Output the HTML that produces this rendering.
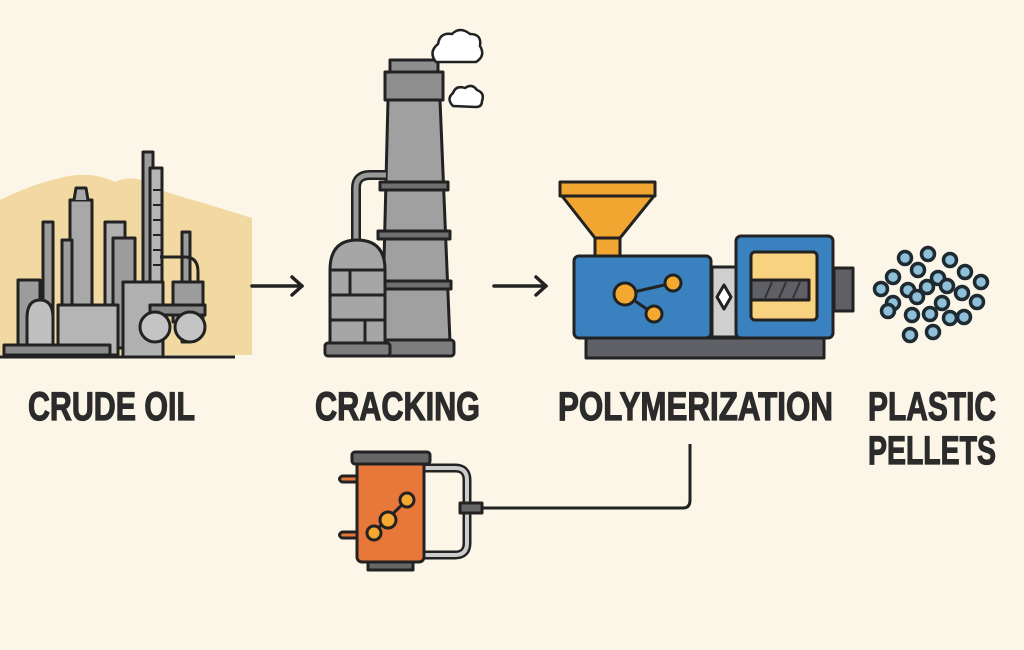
<!DOCTYPE html>
<html><head><meta charset="utf-8"><style>
html,body{margin:0;padding:0;background:#fcf6e9;}
svg{display:block}
text{font-family:"Liberation Sans Narrow","Liberation Sans",sans-serif;font-weight:bold;fill:#2b2b2b;stroke:#2b2b2b;stroke-width:1.2;}
</style></head><body>
<svg width="1024" height="650" viewBox="0 0 1024 650" xmlns="http://www.w3.org/2000/svg">
<rect width="1024" height="650" fill="#fcf6e9"/>
<path d="M0 200 Q30 185 60 178 Q90 170 115 182 Q135 172 160 190 Q185 198 210 205 L252 218 L252 355 L0 355 Z" fill="#f2d9a2"/>
<g stroke="#222" stroke-width="3" fill="#9c9c9c" stroke-linejoin="round">
<rect x="43" y="222" width="10" height="120"/>
<rect x="70" y="200" width="22" height="140" fill="#a8a8a8"/>
<path d="M74 200 L76 188 L86 188 L88 200" fill="#a8a8a8"/>
<rect x="62" y="240" width="10" height="100"/>
<rect x="105" y="222" width="20" height="120" fill="#b0b0b0"/>
<rect x="113" y="238" width="22" height="110"/>
<rect x="143" y="152" width="10" height="190"/>
<rect x="150" y="168" width="12" height="180" fill="#b5b5b5"/>
<path d="M153 190 L162 190 M153 205 L162 205 M153 220 L162 220 M153 235 L162 235 M153 250 L162 250 M153 265 L162 265" stroke-width="2"/>
<rect x="182" y="232" width="8" height="110"/>
<path d="M160 257 L185 257 Q198 257 198 272 L198 285" fill="none"/>
<rect x="18" y="280" width="22" height="65"/>
<rect x="58" y="305" width="60" height="50" fill="#b5b5b5"/>
<rect x="123" y="282" width="40" height="75" fill="#b0b0b0"/>
<rect x="173" y="282" width="30" height="40"/>
<path d="M27 345 L27 318 Q27 300 40 300 Q53 300 53 318 L53 345" fill="#c0c0c0"/>
<rect x="150" y="305" width="55" height="10" fill="#888"/>
<circle cx="155" cy="327" r="15" fill="#c4c4c4"/>
<circle cx="190" cy="327" r="15" fill="#c4c4c4"/>
<rect x="4" y="345" width="106" height="10" fill="#8a8a8a"/>
<line x1="0" y1="357" x2="235" y2="357"/>
<path d="M388 100 L440 100 L450 342 L382 342 Z" fill="#a0a0a0"/>
<rect x="385" y="72" width="58" height="28" fill="#8e8e8e"/>
<rect x="390" y="60" width="48" height="12" fill="#8e8e8e"/>
<rect x="380" y="182" width="68" height="8" fill="#6f6f6f"/>
<rect x="378" y="231" width="72" height="8" fill="#6f6f6f"/>
<rect x="377" y="281" width="74" height="8" fill="#6f6f6f"/>
<rect x="378" y="340" width="76" height="16" rx="3" fill="#7d7d7d"/>
<path d="M356 244 L356 188 Q356 175 370 175 L386 175" fill="none" stroke-width="10"/>
<path d="M356 244 L356 188 Q356 175 370 175 L386 175" fill="none" stroke="#999" stroke-width="5"/>
<path d="M330 345 L330 270 Q330 240 357 240 Q385 240 385 270 L385 345 Z" fill="#a6a6a6"/>
<line x1="330" y1="270" x2="385" y2="270"/><line x1="330" y1="295" x2="385" y2="295"/><line x1="330" y1="320" x2="385" y2="320"/>
<line x1="350" y1="270" x2="350" y2="295"/><line x1="365" y1="320" x2="365" y2="345"/>
<rect x="325" y="343" width="65" height="13" rx="3" fill="#7d7d7d"/>
</g>
<g fill="#fff" stroke="#222" stroke-width="2.5">
<path d="M436 62 Q428 52 438 44 Q440 32 452 34 Q460 26 470 34 Q482 34 480 46 Q486 56 476 62 Z"/>
<path d="M453 106 Q446 99 453 93 Q456 85 465 88 Q472 83 477 90 Q485 93 482 101 Q482 107 476 107 Z"/>
</g>
<g stroke="#222" stroke-width="3.5" fill="none" stroke-linecap="round" stroke-linejoin="round">
<line x1="252" y1="286" x2="302" y2="286"/><path d="M292 277 L302 286 L292 295"/>
<line x1="494" y1="286" x2="546" y2="286"/><path d="M536 277 L546 286 L536 295"/>
</g>
<g stroke="#222" stroke-width="3" stroke-linejoin="round">
<rect x="586" y="338" width="238" height="20" fill="#5f5f66"/>
<rect x="712" y="267" width="25" height="70" fill="#cfcfcf"/>
<path d="M724 285 L731 297 L724 309 L717 297 Z" fill="#fff"/>
<rect x="834" y="268" width="19" height="43" fill="#5f5f66"/>
<rect x="574" y="256" width="137" height="82" rx="5" fill="#3a82bf"/>
<rect x="736" y="236" width="97" height="102" rx="5" fill="#3a82bf"/>
<rect x="751" y="252" width="66" height="68" rx="4" fill="#f8d27e"/>
<rect x="751" y="280" width="58" height="20" fill="#5f5f66"/>
<rect x="595" y="238" width="25" height="18" fill="#f0a630"/>
<path d="M562 196 L654 196 L620 238 L595 238 Z" fill="#f0a630"/>
<rect x="560" y="182" width="95" height="14" fill="#f0a630"/>
<line x1="625" y1="294" x2="673" y2="283"/><line x1="625" y1="294" x2="654" y2="314"/>
<circle cx="625" cy="294" r="11" fill="#f5a830"/>
<circle cx="673" cy="283" r="8" fill="#f5a830"/>
<circle cx="654" cy="314" r="8" fill="#f5a830"/>
</g>
<g stroke="#333" stroke-width="2" fill="none"><path d="M765 298 L772 282 M779 298 L786 282 M793 298 L800 282"/></g>
<g fill="#8fc0da" stroke="#1e2a30" stroke-width="3.5">
<circle cx="905" cy="258" r="6.5"/><circle cx="928" cy="254" r="6.5"/><circle cx="950" cy="260" r="6.5"/>
<circle cx="893" cy="277" r="6.5"/><circle cx="918" cy="270" r="6.5"/><circle cx="938" cy="278" r="6.5"/><circle cx="965" cy="272" r="6.5"/>
<circle cx="881" cy="289" r="6.5"/><circle cx="908" cy="290" r="6.5"/><circle cx="927" cy="287" r="6.5"/><circle cx="947" cy="286" r="6.5"/><circle cx="981" cy="282" r="6.5"/>
<circle cx="893" cy="303" r="6.5"/><circle cx="917" cy="297" r="6.5"/><circle cx="942" cy="303" r="6.5"/><circle cx="962" cy="293" r="6.5"/><circle cx="977" cy="302" r="6.5"/>
<circle cx="888" cy="311" r="6.5"/><circle cx="912" cy="315" r="6.5"/><circle cx="930" cy="314" r="6.5"/><circle cx="950" cy="318" r="6.5"/><circle cx="964" cy="317" r="6.5"/>
<circle cx="910" cy="335" r="6.5"/><circle cx="933" cy="332" r="6.5"/>
</g>
<text x="28" y="420" font-size="40" textLength="167" lengthAdjust="spacingAndGlyphs">CRUDE OIL</text>
<text x="315" y="420" font-size="40" textLength="165" lengthAdjust="spacingAndGlyphs">CRACKING</text>
<text x="558" y="420" font-size="40" textLength="275" lengthAdjust="spacingAndGlyphs">POLYMERIZATION</text>
<text x="868" y="420" font-size="40" textLength="128" lengthAdjust="spacingAndGlyphs">PLASTIC</text>
<text x="868" y="464" font-size="40" textLength="128" lengthAdjust="spacingAndGlyphs">PELLETS</text>
<path d="M482 508 L683 508 Q690 508 690 500 L690 444" fill="none" stroke="#222" stroke-width="3"/>
<g stroke="#222" stroke-width="3" stroke-linejoin="round">
<path d="M425 468 L455 468 Q467 468 467 480 L467 543 Q467 555 455 555 L425 555" fill="none" stroke-width="9"/>
<path d="M425 468 L455 468 Q467 468 467 480 L467 543 Q467 555 455 555 L425 555" fill="none" stroke="#ccc" stroke-width="4"/>
<rect x="460" y="503" width="22" height="10" fill="#666"/>
<path d="M357 476 L342 476 Q337 479 342 482 L357 482 M357 532 L342 532 Q337 535 342 538 L357 538" fill="#e8773a"/>
<rect x="368" y="560" width="45" height="10" fill="#666"/>
<rect x="357" y="460" width="67" height="102" rx="5" fill="#e8773a"/>
<rect x="352" y="452" width="78" height="12" rx="3" fill="#666"/>
<line x1="373" y1="533" x2="407" y2="500"/>
<circle cx="407" cy="500" r="7" fill="#f5a830"/>
<circle cx="388" cy="520" r="8" fill="#f5a830"/>
<circle cx="374" cy="533" r="7" fill="#f5a830"/>
</g>
</svg>
</body></html>
